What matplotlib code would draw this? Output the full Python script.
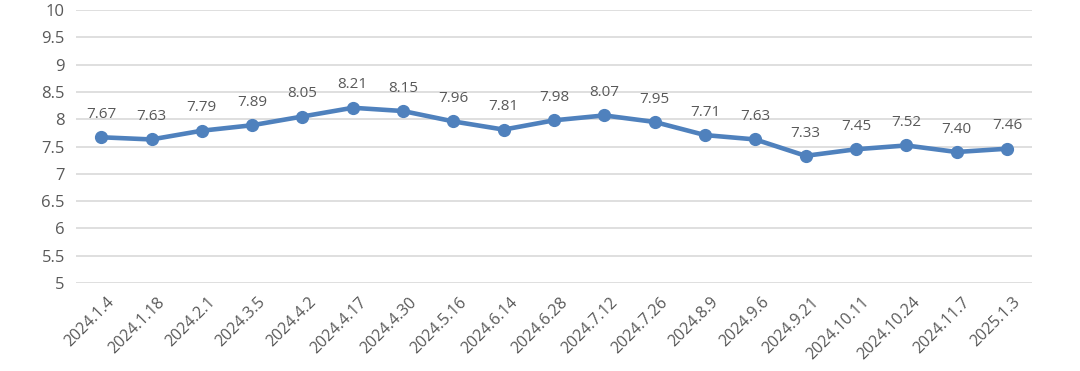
import matplotlib.pyplot as plt
import matplotlib.transforms as mtrans
import numpy as np

dates = ["2024.1.4", "2024.1.18", "2024.2.1", "2024.3.5", "2024.4.2", "2024.4.17",
         "2024.4.30", "2024.5.16", "2024.6.14", "2024.6.28", "2024.7.12", "2024.7.26",
         "2024.8.9", "2024.9.6", "2024.9.21", "2024.10.11", "2024.10.24", "2024.11.7",
         "2025.1.3"]
values = [7.67, 7.63, 7.79, 7.89, 8.05, 8.21, 8.15, 7.96, 7.81, 7.98, 8.07, 7.95,
          7.71, 7.63, 7.33, 7.45, 7.52, 7.40, 7.46]

plt.rcParams["font.family"] = ["Open Sans", "DejaVu Sans"]
text_color = "#595959"
line_color = "#4F81BD"

fig = plt.figure(figsize=(10.8, 3.71), dpi=100)
ax = fig.add_axes([0.0704, 0.237, 0.8852, 0.736])

x = np.arange(len(dates))
ax.plot(x, values, color=line_color, linewidth=3.3, marker="o", markersize=8.5, zorder=3)
for xi, v in zip(x, values):
    ax.annotate(f"{v:.2f}", (xi, v), xytext=(0, 11), textcoords="offset points",
                ha="center", va="bottom", fontsize=11, color=text_color)

ax.set_xlim(-0.5, len(dates) - 0.5)
ax.set_ylim(5, 10)
ax.set_yticks(np.arange(5, 10.01, 0.5))
ax.set_yticklabels([f"{t:g}" for t in np.arange(5, 10.01, 0.5)])
ax.set_xticks(x)
ax.set_xticklabels(dates, rotation=45, ha="right", rotation_mode="anchor")
ax.tick_params(axis="y", length=0, colors=text_color, labelsize=12, pad=8)
ax.tick_params(axis="x", length=0, colors=text_color, labelsize=11.5, pad=8)
shift = mtrans.ScaledTranslation(4 / 72, 0, fig.dpi_scale_trans)
for lbl in ax.get_xticklabels():
    lbl.set_transform(lbl.get_transform() + shift)
ax.grid(axis="y", color="#D9D9D9", linewidth=1.2)
ax.set_axisbelow(True)
for s in ax.spines.values():
    s.set_visible(False)

fig.savefig("out.png", dpi=100)
